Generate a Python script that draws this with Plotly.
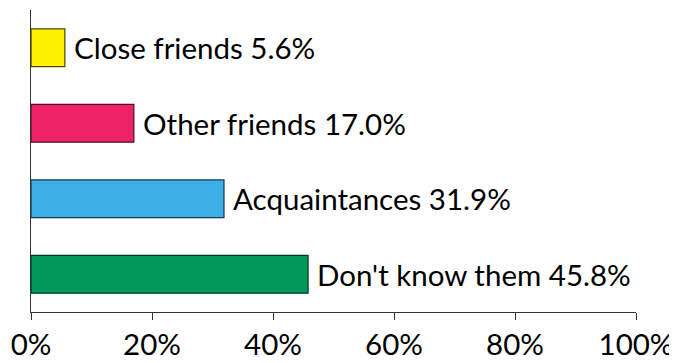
import plotly.graph_objects as go

categories = ["Close friends", "Other friends", "Acquaintances", "Don't know them"]
values = [5.6, 17.0, 31.9, 45.8]
fill_colors = ["#FFF200", "#EE2266", "#3DAEE6", "#00995A"]
edge_colors = ["#4A4500", "#5A0A25", "#123A55", "#003A1E"]
tick_vals = [0, 20, 40, 60, 80, 100]
tick_text = ["0%", "20%", "40%", "60%", "80%", "100%"]

FONT = "Lato"
FS = 29.5

fig = go.Figure()
fig.add_trace(go.Bar(
    x=values, y=categories, orientation="h",
    marker=dict(color=fill_colors, line=dict(color=edge_colors, width=1.2)),
    width=0.5, showlegend=False, hoverinfo="skip",
))

for c, v in zip(categories, values):
    fig.add_annotation(x=v, y=c, text=f"{c} {v:.1f}%", xanchor="left", yanchor="middle",
                       xshift=7, showarrow=False, font=dict(family=FONT, size=FS, color="black"))

# page body has an 8px default margin, so the figure is sized to fit the 677x363 window
fig.update_layout(
    width=669, height=355,
    margin=dict(l=23, r=41, t=2, b=51, autoexpand=False),
    plot_bgcolor="white", paper_bgcolor="white",
    xaxis=dict(range=[0, 100], tickvals=tick_vals, ticktext=tick_text, showgrid=False, zeroline=False,
               showline=True, linecolor="#333333", linewidth=1, ticks="outside", ticklen=7,
               tickcolor="#333333", tickfont=dict(family=FONT, size=FS, color="black"),
               automargin=False),
    yaxis=dict(categoryorder="array", categoryarray=categories, autorange="reversed",
               range=[3.5, -0.5], showticklabels=False, showgrid=False, zeroline=False,
               showline=True, linecolor="#333333", linewidth=1, ticks="", automargin=False),
)
fig.write_html("out.html")
